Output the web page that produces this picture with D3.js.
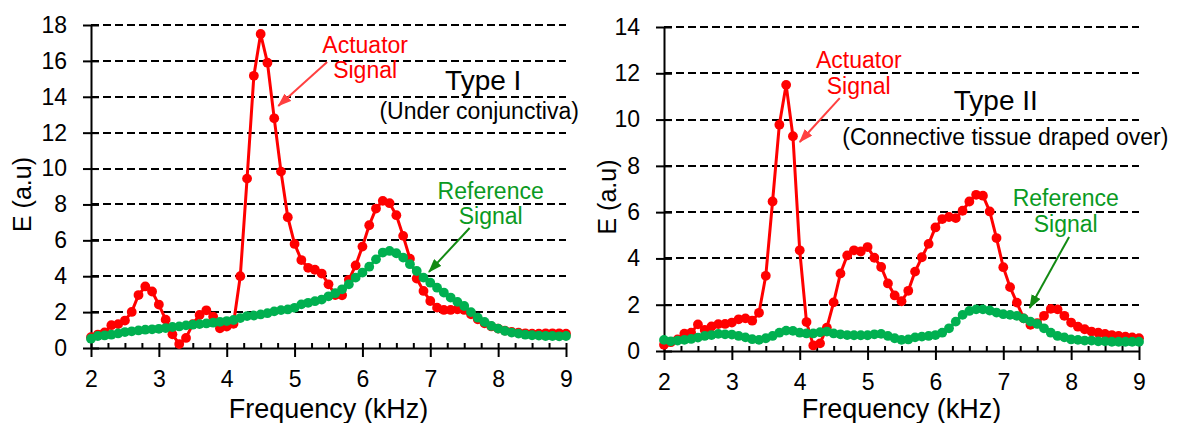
<!DOCTYPE html>
<html>
<head>
<meta charset="utf-8">
<script src="https://cdn.jsdelivr.net/npm/d3@7"></script>
<style>
  body { margin: 0; background: #fff; }
  svg { display: block; font-family: "Liberation Sans", Arial, sans-serif; }
</style>
</head>
<body>
<div id="chart"></div>
<script>
// frequency grid (kHz), one sample every 0.1 kHz
const freq = d3.range(71).map(i => +(2 + i / 10).toFixed(1));

// Type I (under conjunctiva)
const actuator1 = [0.6, 0.75, 0.87, 1.27, 1.33, 1.53, 2.01, 2.95, 3.43, 3.15,
  2.42, 1.58, 0.76, 0.22, 0.56, 1.33, 1.84, 2.1, 1.75, 1.1,
  1.19, 1.35, 4.0, 9.44, 15.17, 17.5, 15.9, 12.8, 9.83, 7.29,
  5.8, 4.9, 4.47, 4.36, 4.15, 3.55, 2.95, 2.94, 3.8, 4.6,
  5.65, 6.84, 7.77, 8.2, 8.07, 7.4, 6.25, 4.98, 3.87, 3.18,
  2.62, 2.25, 2.12, 2.12, 2.16, 2.12, 1.88, 1.6, 1.38, 1.2,
  1.08, 0.97, 0.9, 0.85, 0.82, 0.8, 0.8, 0.82, 0.82, 0.82, 0.8];
const reference1 = [0.52, 0.67, 0.7, 0.74, 0.81, 0.89, 0.93, 0.98, 1.02, 1.04,
  1.07, 1.11, 1.17, 1.2, 1.26, 1.3, 1.33, 1.37, 1.41, 1.46,
  1.5, 1.56, 1.67, 1.78, 1.81, 1.87, 1.94, 2.04, 2.11, 2.15,
  2.24, 2.43, 2.52, 2.61, 2.7, 2.88, 3.05, 3.27, 3.55, 3.92,
  4.2, 4.53, 4.94, 5.32, 5.41, 5.28, 5.04, 4.67, 4.29, 3.92,
  3.64, 3.36, 3.09, 2.81, 2.57, 2.34, 2.0, 1.69, 1.45, 1.23,
  1.08, 0.95, 0.86, 0.8, 0.74, 0.71, 0.69, 0.67, 0.67, 0.65, 0.67];

// Type II (connective tissue draped over)
const actuator2 = [0.27, 0.38, 0.5, 0.75, 0.79, 1.15, 0.91, 1.06, 1.16, 1.17,
  1.23, 1.37, 1.41, 1.31, 1.65, 3.25, 6.46, 9.78, 11.5, 9.28,
  4.35, 1.25, 0.24, 0.33, 1.01, 2.1, 3.35, 4.13, 4.35, 4.3,
  4.49, 4.03, 3.63, 2.92, 2.4, 2.15, 2.6, 3.43, 4.05, 4.63,
  5.34, 5.7, 5.79, 5.74, 6.06, 6.46, 6.75, 6.71, 6.03, 4.88,
  3.62, 2.76, 2.09, 1.41, 1.13, 1.2, 1.52, 1.82, 1.8, 1.52,
  1.23, 1.05, 0.94, 0.84, 0.79, 0.74, 0.69, 0.65, 0.62, 0.59, 0.55];
const reference2 = [0.48, 0.42, 0.45, 0.48, 0.52, 0.58, 0.65, 0.69, 0.74, 0.72,
  0.71, 0.65, 0.59, 0.51, 0.48, 0.55, 0.65, 0.79, 0.88, 0.87,
  0.79, 0.76, 0.76, 0.81, 0.84, 0.76, 0.72, 0.69, 0.68, 0.68,
  0.68, 0.72, 0.74, 0.65, 0.55, 0.48, 0.5, 0.59, 0.62, 0.65,
  0.69, 0.79, 0.98, 1.27, 1.56, 1.73, 1.8, 1.8, 1.75, 1.66,
  1.59, 1.56, 1.52, 1.41, 1.27, 1.17, 0.98, 0.79, 0.65, 0.59,
  0.5, 0.48, 0.45, 0.45, 0.42, 0.42, 0.4, 0.4, 0.4, 0.4, 0.4];

const xTicks = [2, 3, 4, 5, 6, 7, 8, 9];
const yTicks1 = [0, 2, 4, 6, 8, 10, 12, 14, 16, 18];
const yTicks2 = [0, 2, 4, 6, 8, 10, 12, 14];

const W = 1178, H = 423;
const RED = "#ff0000", GREEN = "#00b050", TXTGREEN = "#0a9a22";
const FONT = "'Liberation Sans', Arial, sans-serif";

const svg = d3.select("#chart").append("svg")
  .attr("width", W).attr("height", H);

const defs = svg.append("defs");
function marker(id, color) {
  defs.append("marker")
    .attr("id", id)
    .attr("markerUnits", "userSpaceOnUse")
    .attr("viewBox", "0 0 14 10")
    .attr("refX", 13).attr("refY", 5)
    .attr("markerWidth", 14).attr("markerHeight", 10)
    .attr("orient", "auto")
    .append("path").attr("d", "M0,0 L14,5 L0,10 Z").attr("fill", color);
}
marker("arrRed", "#ff4040");
marker("arrGreen", "#138a13");

function panel(p) {
  const x = d3.scaleLinear().domain([2, 9]).range([p.left, p.right]);
  const y = d3.scaleLinear().domain([0, p.ymax]).range([p.bottom, p.top]);
  const g = svg.append("g");

  // dashed grid
  g.selectAll(".grid").data(p.yTicks.filter(d => d > 0)).enter()
    .append("line")
    .attr("x1", p.left).attr("x2", p.right)
    .attr("y1", d => Math.round(y(d))).attr("y2", d => Math.round(y(d)))
    .attr("stroke", "#000").attr("stroke-width", 2)
    .attr("stroke-dasharray", "8,4");

  // minor x ticks
  const minor = d3.range(2, 9.001, 0.25).filter(d => Math.abs(d - Math.round(d)) > 0.01);
  g.append("g")
    .attr("transform", `translate(0,${p.bottom})`)
    .call(d3.axisBottom(x).tickValues(minor).tickSize(-5).tickSizeOuter(0).tickFormat(""))
    .call(a => a.select(".domain").remove())
    .call(a => a.selectAll(".tick line").attr("stroke-width", 2));

  // x axis
  const xa = g.append("g")
    .attr("transform", `translate(0,${p.bottom})`)
    .call(d3.axisBottom(x).tickValues(xTicks).tickSize(9).tickSizeOuter(0).tickPadding(14).tickFormat(d3.format("d")));
  xa.select(".domain").attr("stroke-width", 2);
  xa.selectAll(".tick line").attr("y1", -5).attr("stroke-width", 2);
  xa.selectAll("text").attr("font-size", 23).attr("font-family", FONT).attr("fill", "#000");

  // y axis
  const ya = g.append("g")
    .attr("transform", `translate(${p.left},0)`)
    .call(d3.axisLeft(y).tickValues(p.yTicks).tickSize(8).tickSizeOuter(0).tickPadding(16));
  ya.select(".domain").attr("stroke-width", 2);
  ya.selectAll(".tick line").attr("x1", 8).attr("stroke-width", 2);
  ya.selectAll("text").attr("font-size", 23).attr("font-family", FONT).attr("fill", "#000");

  // axis titles
  g.append("text")
    .attr("x", (p.left + p.right) / 2).attr("y", 418)
    .attr("text-anchor", "middle").attr("font-size", 27)
    .text("Frequency (kHz)");
  g.append("text")
    .attr("transform", `translate(${p.left - p.ylabOff},${(p.top + p.bottom) / 2 + 8}) rotate(-90)`)
    .attr("text-anchor", "middle").attr("dy", "0.35em").attr("font-size", 25)
    .text("E (a.u)");

  // series
  const line = d3.line().x((d, i) => x(freq[i])).y(d => y(d));
  [[p.act, RED], [p.ref, GREEN]].forEach(([vals, col]) => {
    g.append("path").datum(vals)
      .attr("fill", "none").attr("stroke", col).attr("stroke-width", 3)
      .attr("stroke-linejoin", "round").attr("d", line);
    g.append("g").selectAll("circle").data(vals).enter()
      .append("circle")
      .attr("cx", (d, i) => x(freq[i])).attr("cy", d => y(d))
      .attr("r", 4.9).attr("fill", col);
  });

  // annotations
  const a = p.ann;
  const txt = (pos, s, size, col) => g.append("text")
    .attr("x", x(pos[0])).attr("y", y(pos[1]))
    .attr("text-anchor", "middle").attr("font-size", size).attr("fill", col).text(s);
  txt(a.act1, "Actuator", 23, RED);
  txt(a.act2, "Signal", 23, RED);
  txt(a.ref1, "Reference", 23, TXTGREEN);
  txt(a.ref2, "Signal", 23, TXTGREEN);
  txt(a.type, p.type, 28, "#000");
  txt(a.sub, p.sub, 23, "#000");
  const arrow = (ar, col, id) => g.append("line")
    .attr("x1", x(ar[0])).attr("y1", y(ar[1]))
    .attr("x2", x(ar[2])).attr("y2", y(ar[3]))
    .attr("stroke", col).attr("stroke-width", 2)
    .attr("marker-end", `url(#${id})`);
  arrow(a.redArrow, "#ff4040", "arrRed");
  arrow(a.greenArrow, "#138a13", "arrGreen");
}

panel({
  left: 91, right: 566, top: 25, bottom: 348, ymax: 18, yTicks: yTicks1, ylabOff: 69,
  act: actuator1, ref: reference1,
  type: "Type I", sub: "(Under conjunctiva)",
  ann: {
    act1: [6.04, 16.44], act2: [6.04, 15.05],
    redArrow: [5.48, 15.94, 4.76, 13.49],
    type: [7.78, 14.38], sub: [7.72, 12.76],
    ref1: [7.89, 8.3], ref2: [7.89, 6.91],
    greenArrow: [7.58, 6.69, 6.98, 4.24]
  }
});

panel({
  left: 664, right: 1139, top: 27, bottom: 351, ymax: 14, yTicks: yTicks2, ylabOff: 57,
  act: actuator2, ref: reference2,
  type: "Type II", sub: "(Connective tissue draped over)",
  ann: {
    act1: [4.87, 12.23], act2: [4.87, 11.1],
    redArrow: [4.59, 10.93, 4.0, 9.03],
    type: [6.89, 10.41], sub: [7.03, 8.9],
    ref1: [7.92, 6.27], ref2: [7.92, 5.14],
    greenArrow: [7.97, 4.93, 7.39, 1.86]
  }
});
</script>
</body>
</html>
